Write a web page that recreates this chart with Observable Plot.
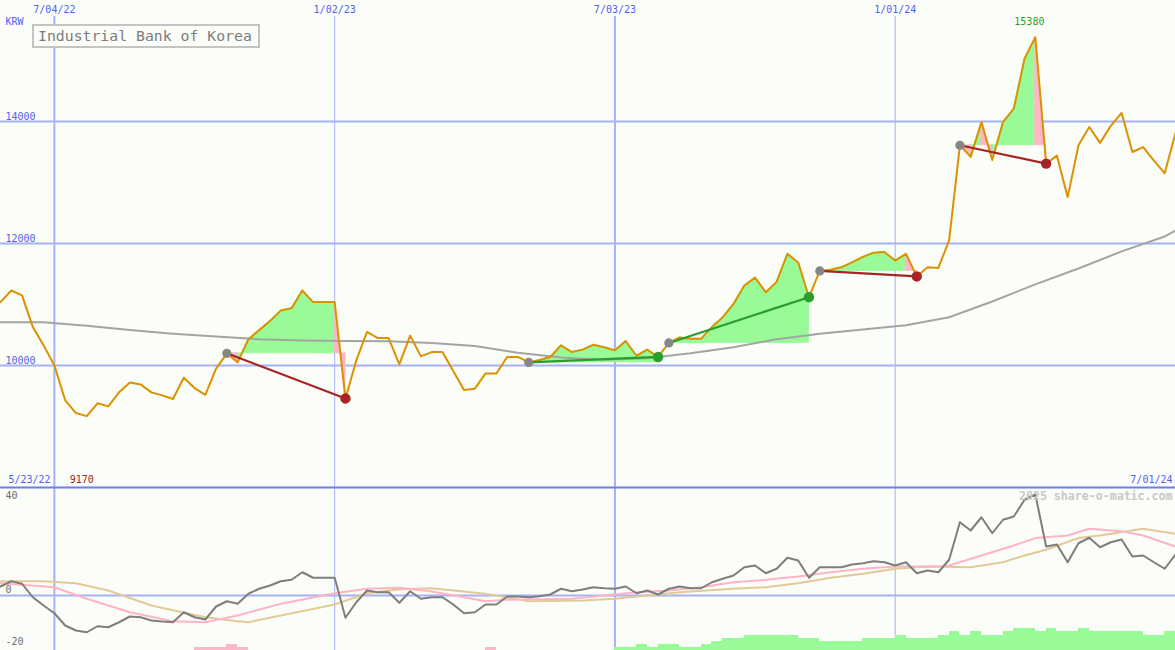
<!DOCTYPE html>
<html><head><meta charset="utf-8">
<script src="https://cdn.jsdelivr.net/npm/d3@7"></script>
<script src="https://cdn.jsdelivr.net/npm/@observablehq/plot@0.6"></script>
<style>
body{margin:0;background:#fbfdf9;}
#wrap{position:relative;width:1175px;height:650px;overflow:hidden;background:#fbfdf9;}
#topPanel,#botPanel{position:absolute;left:0;}
#topPanel{top:0;} #botPanel{top:488px;}
#title{position:absolute;left:32px;top:24px;width:220px;height:20px;border:2px solid #c4c4c4;color:#7c7c7c;font:14.8px "DejaVu Sans Mono",monospace;line-height:20px;padding-left:4px;background:#fbfdf9;white-space:nowrap;}
</style></head><body>
<div id="wrap"><div id="botPanel"></div><div id="topPanel"></div><div id="title">Industrial Bank of Korea</div></div>
<script>
// ---------- data ----------
const startDate = new Date(Date.UTC(2022, 4, 30));
const endDate = new Date(Date.UTC(2024, 6, 1));
const weekDate = i => new Date(startDate.getTime() + i * 7 * 864e5);

const prices = [
 11040,11230,11150,10630,10330,10000,9430,9220,9170,9380,
 9330,9560,9720,9690,9560,9510,9450,9800,9630,9520,
 9950,10200,10050,10430,10580,10730,10900,10940,11230,11040,
 11040,11040,9460,10080,10550,10450,10450,10020,10490,10150,
 10220,10220,9910,9600,9620,9870,9870,10140,10140,10050,
 10090,10140,10330,10220,10260,10340,10300,10250,10400,10160,
 10260,10140,10370,10460,10440,10440,10630,10790,11010,11310,
 11440,11200,11370,11830,11690,11120,11550,11570,11610,11690,
 11780,11850,11860,11720,11830,11460,11610,11600,12050,13610,
 13420,13990,13370,13990,14210,15030,15380,13310,13440,12760,
 13610,13910,13650,13930,14140,13500,13580,13360,13150,13810];

const momentum = [
 3.6,5.7,4.7,-0.7,-4,-7.1,-12,-14,-14.7,-12.3,
 -12.7,-10.7,-8.4,-8.7,-10,-10.4,-10.7,-6.7,-8.7,-9.6,
 -4.4,-2.3,-3.3,0.7,2.7,4,5.7,6.3,9.3,7.1,
 7.1,7.1,-8.9,-2.7,2,1.3,1.3,-2.9,1.7,-1.3,
 -0.7,-0.7,-3.6,-7.1,-6.7,-3.6,-3.6,-0.4,-0.4,-0.7,
 -0.3,0.4,2.7,1.7,2.4,3.3,2.9,2.7,3.6,0.9,
 2,0.4,2.7,3.6,2.9,2.9,5.3,6.7,8,11.3,
 12,8.9,10.7,15.1,14,7.1,11.3,11.3,11.3,12.4,
 12.9,13.7,13.3,12,13.3,8.9,10,9.3,14.3,29.3,
 26,31.3,24.9,30.3,31.6,38.3,40.4,19.6,20.4,13.3,
 20.9,23.1,19.3,21.3,22.4,15.6,16,13.3,10.7,16.4];

const maIdx  = [0,4,8,12,16,20,24,28,32,36,40,44,48,52,56,60,64,68,72,76,80,84,88,92,96,100,104,108,109];
const maVals = [10710,10710,10650,10580,10520,10475,10430,10410,10400,10398,10370,10320,10210,10130,10093,10120,10200,10300,10430,10520,10590,10660,10790,11050,11330,11590,11870,12115,12213];

const pinkIdx  = [0,5,8,12,16,19,22,26,31,34,37,40,43,45,47,53,56,59,62,65,68,71,74,77,80,83,87,88,91,94,96,99,101,104,106,109];
const pinkVals = [4.9,3.3,-1.3,-6.7,-10.3,-10.7,-8,-3.3,0.9,2.7,3.1,1.6,-0.7,-2.3,-1.7,-1.3,0,1.3,2,3.3,5.3,6.3,7.6,9.3,10.7,11.6,11.6,12,16,20,23,24,26.7,25.7,24,19.6];

const tanIdx  = [0,4,7,10,14,19,22,23,26,31,34,37,40,45,49,54,57,60,63,68,71,74,77,80,83,86,90,93,95,97,100,102,106,109];
const tanVals = [5.7,5.7,4.9,2,-4,-8.7,-10.3,-10.7,-8,-3.6,0.9,2.5,2.9,0.7,-2.3,-2,-1.3,0,1.3,2.7,3.3,4.9,7.1,8.7,10.7,11.6,11.3,13.3,16,18.3,23,24,26.7,24.7];

const histIdx  = [18,19,20,21,22,45,57,58,59,60,61,62,63,64,65,66,67,68,69,70,71,72,73,74,75,76,77,78,79,80,81,82,83,84,85,86,87,88,89,90,91,92,93,94,95,96,97,98,99,100,101,102,103,104,105,106,107,108];
const histVals = [-1.2,-1.2,-1.2,-2.4,-1.2,-1.2,
 1.2,1.2,2.4,1.2,2.4,2.4,1.2,1.2,2.4,3.6,4.8,4.8,6,6,6,6,6,4.8,4.8,3.6,3.6,3.6,3.6,4.8,4.8,4.8,6,4.8,4.8,4.8,6,7.6,6,7.6,6,6,7.6,8.7,8.7,7.6,8.7,7.6,7.6,8.7,7.6,7.6,7.6,7.6,7.6,6,6,7.6];

const tradeEntry = [21,49,62,76,89];
const tradeExit  = [32,61,75,85,97];

const tickDates  = ["2022-07-04","2023-01-02","2023-07-03","2024-01-01"].map(d => new Date(d));
const tickLabels = ["7/04/22","1/02/23","7/03/23","1/01/24"];
const tickMajor  = [true,false,true,false];
const priceTicks = [10000,12000,14000];
const rangeStartLabel = "5/23/22";
const rangeEndLabel = "7/01/24";
const currency = "KRW";
const watermark = "2025 share-o-matic.com";
const oscTicks = [40,0,-20];

// ---------- styles ----------
const grid = "#a6b2f4", sep = "#6e7ee8", blue = "#5262ee";
const greenFill = "#98fb98", pinkFill = "#ffb6c6";
const priceCol = "#dc9200", maCol = "#a4a4a4";
const upCol = "#2a9d2a", dnCol = "#a82424", entryCol = "#868686";
const font = "DejaVu Sans Mono";
const txt = {fontSize: 10, lineAnchor: "middle"};

// ---------- derived tables ----------
const priceRows = prices.map((p, i) => ({date: weekDate(i), v: p}));
const maRows = maIdx.map((k, j) => ({date: weekDate(k), v: maVals[j]}));
const fillRows = [];
const trades = [];
tradeEntry.forEach((e, t) => {
  const x = tradeExit[t], base = prices[e];
  for (let i = e; i < x; i++) {
    const col = prices[i + 1] >= base ? "g" : "p";
    for (const j of [i, i + 1]) fillRows.push({date: weekDate(j), base, v: prices[j], seg: t + "-" + i, col});
  }
  trades.push({d1: weekDate(e), p1: base, d2: weekDate(x), p2: prices[x], up: prices[x] > base});
});
let minI = 0, maxI = 0;
prices.forEach((p, i) => { if (p < prices[minI]) minI = i; if (p > prices[maxI]) maxI = i; });

const xScale = {type: "utc", domain: [startDate, endDate], range: [0, 1175], axis: null};

const topChart = Plot.plot({
  width: 1175, height: 488, margin: 0,
  x: xScale,
  y: {domain: [7983.6, 15983.6], axis: null},
  style: {background: "transparent", fontFamily: font, overflow: "visible"},
  marks: [
    Plot.ruleX(tickDates, {x: d => d, stroke: grid, strokeWidth: (d, i) => tickMajor[i] ? 2 : 1, insetTop: 16}),
    Plot.ruleY(priceTicks, {y: d => d, stroke: grid, strokeWidth: 2}),
    Plot.areaY(fillRows.filter(r => r.col === "g"), {x: "date", y1: "base", y2: "v", z: "seg", fill: greenFill, stroke: greenFill, strokeWidth: 0.8, curve: "linear"}),
    Plot.areaY(fillRows.filter(r => r.col === "p"), {x: "date", y1: "base", y2: "v", z: "seg", fill: pinkFill, stroke: pinkFill, strokeWidth: 0.8, curve: "linear"}),
    Plot.line(maRows, {x: "date", y: "v", stroke: maCol, strokeWidth: 2}),
    Plot.line(priceRows, {x: "date", y: "v", stroke: priceCol, strokeWidth: 2}),
    Plot.link(trades, {x1: "d1", y1: "p1", x2: "d2", y2: "p2", stroke: d => d.up ? upCol : dnCol, strokeWidth: 2.2}),
    Plot.dot(trades, {x: "d1", y: "p1", r: 4.6, fill: entryCol, stroke: "none"}),
    Plot.dot(trades, {x: "d2", y: "p2", r: 5.2, fill: d => d.up ? upCol : dnCol, stroke: "none"}),
    Plot.ruleY([8000], {stroke: sep, strokeWidth: 2}),
    Plot.text(tickDates, {...txt, x: d => d, text: (d, i) => tickLabels[i], frameAnchor: "top", dy: 9, fill: blue}),
    Plot.text(priceTicks, {...txt, y: d => d, text: d => String(d), frameAnchor: "left", textAnchor: "start", dx: 5, dy: -5, fill: blue}),
    Plot.text([currency], {...txt, text: d => d, frameAnchor: "top-left", textAnchor: "start", dx: 5, dy: 21, fill: blue}),
    Plot.text([rangeStartLabel], {...txt, text: d => d, frameAnchor: "bottom-left", textAnchor: "start", dx: 8, dy: -9, fill: blue}),
    Plot.text([rangeEndLabel], {...txt, text: d => d, frameAnchor: "bottom-right", textAnchor: "end", dx: -3, dy: -9, fill: blue}),
    Plot.text([minI], {...txt, x: i => weekDate(i), text: i => String(prices[i]), frameAnchor: "bottom", dx: -5, dy: -9, fill: "#a82020"}),
    Plot.text([maxI], {...txt, x: i => weekDate(i), text: i => String(prices[i]), frameAnchor: "top", dx: -6, dy: 21, fill: upCol})
  ]
});
document.getElementById("topPanel").appendChild(topChart);

const momRows = momentum.map((v, i) => ({date: weekDate(i), v}));
const pinkRows = pinkIdx.map((k, j) => ({date: weekDate(k), v: pinkVals[j]}));
const tanRows = tanIdx.map((k, j) => ({date: weekDate(k), v: tanVals[j]}));
const yBottom = -22;
const histRows = histIdx.map((k, j) => ({d1: weekDate(k), d2: weekDate(k + 1), y1: yBottom, y2: yBottom + Math.abs(histVals[j]), pos: histVals[j] > 0}));

const botChart = Plot.plot({
  width: 1175, height: 162, margin: 0,
  x: xScale,
  y: {domain: [yBottom, 42.8], axis: null},
  style: {background: "transparent", fontFamily: font, overflow: "visible"},
  marks: [
    Plot.ruleX(tickDates, {x: d => d, stroke: grid, strokeWidth: (d, i) => tickMajor[i] ? 2 : 1}),
    Plot.ruleY([0], {stroke: grid, strokeWidth: 2}),
    Plot.rect(histRows, {x1: "d1", x2: "d2", y1: "y1", y2: "y2", fill: d => d.pos ? greenFill : pinkFill, shapeRendering: "crispEdges"}),
    Plot.line(tanRows, {x: "date", y: "v", stroke: "#e2ca98", strokeWidth: 2}),
    Plot.line(pinkRows, {x: "date", y: "v", stroke: "#ffb4c6", strokeWidth: 2}),
    Plot.line(momRows, {x: "date", y: "v", stroke: "#7e7e7e", strokeWidth: 2}),
    Plot.text([oscTicks[0]], {...txt, y: d => d, text: d => String(d), frameAnchor: "left", textAnchor: "start", dx: 5, fill: "#707070"}),
    Plot.text([oscTicks[1]], {...txt, y: d => d, text: d => String(d), frameAnchor: "left", textAnchor: "start", dx: 5, dy: -6, fill: "#707070"}),
    Plot.text([oscTicks[2]], {...txt, y: d => d, text: d => String(d), frameAnchor: "left", textAnchor: "start", dx: 5, dy: -3.5, fill: "#707070"}),
    Plot.text([watermark], {text: d => d, frameAnchor: "top-right", textAnchor: "end", lineAnchor: "middle", dx: -3, dy: 8, fill: "#c8c8c8", fontSize: 11.6, fontWeight: "bold"})
  ]
});
document.getElementById("botPanel").appendChild(botChart);
</script>
</body></html>
